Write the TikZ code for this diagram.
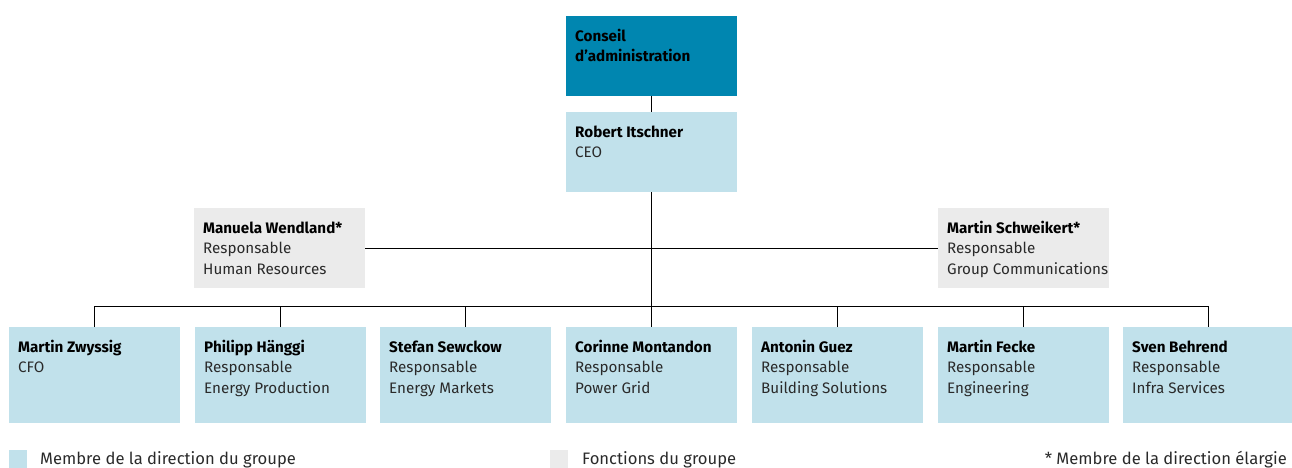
\documentclass[tikz,border=0pt]{standalone}
\usepackage{fontspec}
\setmainfont{Fira Sans}
\definecolor{board}{HTML}{0086B0}
\definecolor{lblue}{HTML}{C1E1EB}
\definecolor{lgrey}{HTML}{EBEBEB}
\definecolor{txt}{HTML}{2A2A2A}
\newcommand\firstln{\rule{0pt}{14pt}}
\begin{document}
\begin{tikzpicture}[x=1pt,y=-1pt,
  box/.style={anchor=north west,minimum width=171pt,inner sep=0pt,outer sep=0pt},
  bluebox/.style={box,fill=lblue,minimum height=80pt},
  bluelow/.style={box,fill=lblue,minimum height=96pt},
  greybox/.style={box,fill=lgrey,minimum height=80pt},
  boardbox/.style={box,fill=board,minimum height=80pt},
  lbl/.style={anchor=north west,inner sep=0pt,align=left,text=txt,font=\fontsize{15.2}{20.5}\selectfont},
  conn/.style={draw=black,line width=0.9pt},
  legtxt/.style={anchor=base west,inner sep=0pt,text=txt,font=\fontsize{16.6}{17}\selectfont}
]
\useasboundingbox (0,0) rectangle (1292,467);
% boxes
\node[boardbox] (board) at (566,16) {};
\node[bluebox] (ceo) at (566,112) {};
\node[greybox] (hr) at (194,208) {};
\node[greybox] (gc) at (938,208) {};
\node[bluelow] (c1) at (9,327) {};
\node[bluelow] (c2) at (195,327) {};
\node[bluelow] (c3) at (380,327) {};
\node[bluelow] (c4) at (566,327) {};
\node[bluelow] (c5) at (752,327) {};
\node[bluelow] (c6) at (938,327) {};
\node[bluelow] (c7) at (1123,327) {};
% labels
\node[lbl,text=black] (tboard) at ([xshift=9pt,yshift=-11pt]board.north west) {\firstln\textbf{Conseil}\\\textbf{d'administration}};
\node[lbl] (tceo) at ([xshift=9pt,yshift=-11pt]ceo.north west) {\firstln\textbf{\color{black}Robert Itschner}\\CEO};
\node[lbl] (thr) at ([xshift=9pt,yshift=-11pt]hr.north west) {\firstln\textbf{\color{black}Manuela Wendland*}\\Responsable\\Human Resources};
\node[lbl] (tgc) at ([xshift=9pt,yshift=-11pt]gc.north west) {\firstln\textbf{\color{black}Martin Schweikert*}\\Responsable\\Group Communications};
\node[lbl] (t1) at ([xshift=9pt,yshift=-11pt]c1.north west) {\firstln\textbf{\color{black}Martin Zwyssig}\\CFO};
\node[lbl] (t2) at ([xshift=9pt,yshift=-11pt]c2.north west) {\firstln\textbf{\color{black}Philipp Hänggi}\\Responsable\\Energy Production};
\node[lbl] (t3) at ([xshift=9pt,yshift=-11pt]c3.north west) {\firstln\textbf{\color{black}Stefan Sewckow}\\Responsable\\Energy Markets};
\node[lbl] (t4) at ([xshift=9pt,yshift=-11pt]c4.north west) {\firstln\textbf{\color{black}Corinne Montandon}\\Responsable\\Power Grid};
\node[lbl] (t5) at ([xshift=9pt,yshift=-11pt]c5.north west) {\firstln\textbf{\color{black}Antonin Guez}\\Responsable\\Building Solutions};
\node[lbl] (t6) at ([xshift=9pt,yshift=-11pt]c6.north west) {\firstln\textbf{\color{black}Martin Fecke}\\Responsable\\Engineering};
\node[lbl] (t7) at ([xshift=9pt,yshift=-11pt]c7.north west) {\firstln\textbf{\color{black}Sven Behrend}\\Responsable\\Infra Services};
% connectors
\coordinate (bus) at (651,306);
\draw[conn] (board.south) -- (ceo.north);
\draw[conn] (ceo.south) -- (c4.north);
\draw[conn] (hr.east) -- (gc.west);
\draw[conn] (c1.north) -- (c1.north |- bus) -- (c7.north |- bus) -- (c7.north);
\foreach \i in {2,3,5,6} {\draw[conn] (c\i.north) -- (c\i.north |- bus);}
% legend
\node[box,fill=lblue,minimum width=18pt,minimum height=18pt] (lg1) at (9,450) {};
\node[legtxt] (lt1) at (40,464) {Membre de la direction du groupe};
\node[box,fill=lgrey,minimum width=18pt,minimum height=18pt] (lg2) at (550,450) {};
\node[legtxt] (lt2) at (582,464) {Fonctions du groupe};
\node[legtxt,anchor=base east] (lt3) at (1287,464) {* Membre de la direction élargie};
\end{tikzpicture}
\end{document}
